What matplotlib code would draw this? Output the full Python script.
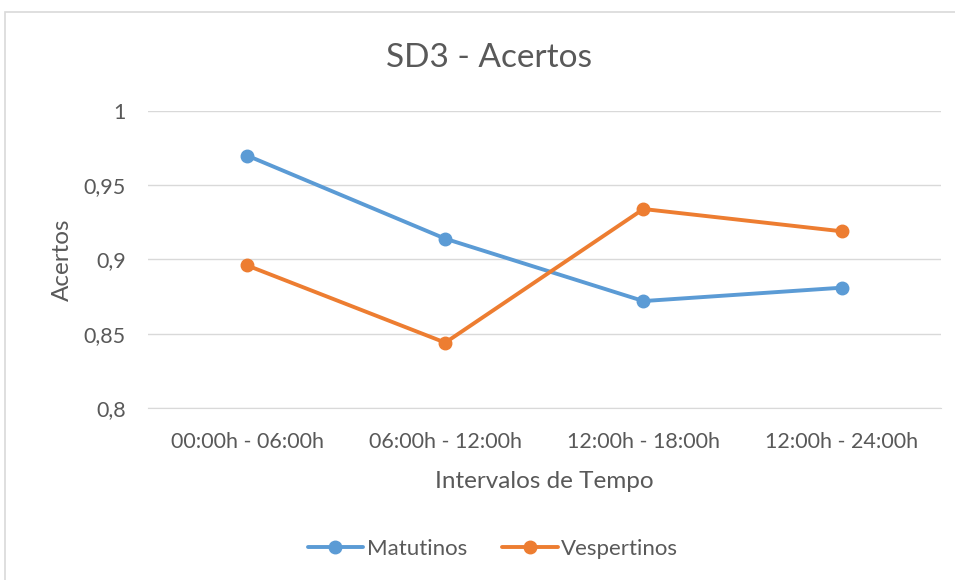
import matplotlib
matplotlib.use('Agg')
import matplotlib.pyplot as plt
from matplotlib.patches import Rectangle

# Data
intervalos = ['00:00h - 06:00h', '06:00h - 12:00h', '12:00h - 18:00h', '12:00h - 24:00h']
matutinos = [0.970, 0.914, 0.872, 0.881]
vespertinos = [0.896, 0.844, 0.934, 0.919]

plt.rcParams['font.family'] = ['Lato', 'DejaVu Sans']
text_color = '#595959'

fig = plt.figure(figsize=(9.55, 5.8), dpi=100)
ax = fig.add_axes([0.155, 0.2966, 0.830, 0.512])

# light outer frame like the spreadsheet chart area
fig.patches.append(Rectangle((5 / 955, -0.01), 1.0, 1 - 12 / 580 + 0.01,
                             transform=fig.transFigure, fill=False,
                             edgecolor='#d9d9d9', linewidth=1.2))

x = range(len(intervalos))
ax.plot(x, matutinos, color='#5b9bd5', linewidth=2.8, marker='o', markersize=9,
        label='Matutinos', solid_capstyle='round')
ax.plot(x, vespertinos, color='#ed7d31', linewidth=2.8, marker='o', markersize=9,
        label='Vespertinos', solid_capstyle='round')

ax.set_xlim(-0.5, 3.5)
ax.set_ylim(0.8, 1.0)
ax.set_yticks([0.8, 0.85, 0.9, 0.95, 1.0])
ax.set_yticklabels(['0,8', '0,85', '0,9', '0,95', '1'])
ax.set_xticks(list(x))
ax.set_xticklabels(intervalos)
ax.grid(axis='y', color='#d9d9d9', linewidth=1)
ax.set_axisbelow(True)
for s in ['top', 'right', 'left']:
    ax.spines[s].set_visible(False)
ax.spines['bottom'].set_color('#d9d9d9')
ax.tick_params(length=0, labelsize=15.5, colors=text_color)
ax.tick_params(axis='x', pad=17)
ax.tick_params(axis='y', pad=16)

fig.text(489 / 955, 1 - 58 / 580, 'SD3 - Acertos', fontsize=24, color=text_color,
         ha='center', va='center')

ax.set_xlabel('Intervalos de Tempo', fontsize=17.5, color=text_color, va='center')
ax.xaxis.set_label_coords(0.5, -0.246)
ax.set_ylabel('Acertos', fontsize=17.5, color=text_color, va='center')
ax.yaxis.set_label_coords(-0.108, 0.5)

leg = fig.legend(loc='center', bbox_to_anchor=(493 / 955, 1 - 549 / 580), ncol=2,
                 frameon=False, fontsize=16, handlelength=2.5, columnspacing=1.6,
                 handletextpad=0.15)
for t in leg.get_texts():
    t.set_color(text_color)

fig.savefig('out.png', dpi=100)
